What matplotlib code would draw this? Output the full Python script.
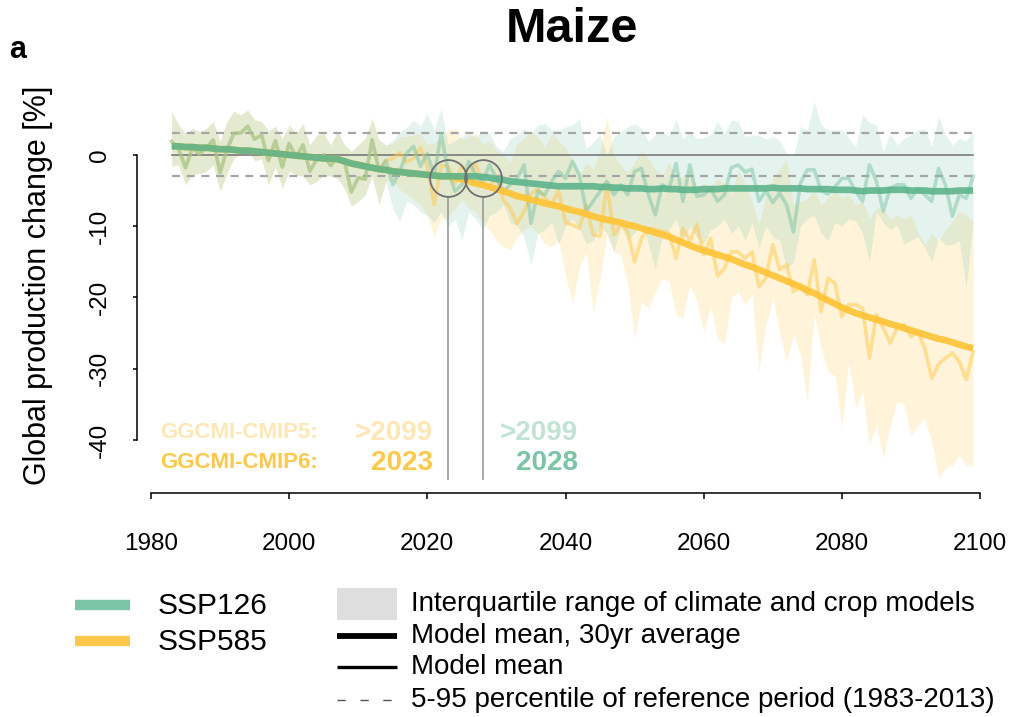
import numpy as np
import matplotlib
matplotlib.use("Agg")
import matplotlib.pyplot as plt
from matplotlib.lines import Line2D
from matplotlib.patches import Rectangle

plt.rcParams['font.family'] = ['Liberation Sans', 'DejaVu Sans']
plt.rcParams['axes.unicode_minus'] = False

# ---- data ----
years = np.arange(1983, 2100)

# shared historical part 1983-2014
hist_mean = [1.9, 0.8, -1.8, 1.0, 0.1, 1.0, 2.1, -2.5, 0.8, 3.0,
             3.1, 4.0, 2.2, 2.8, -0.8, 2.0, -1.7, 1.6, -0.3, 1.4,
             -2.3, -0.6, 0.0, -1.5, -0.3, -0.9, -5.2, -3.2, -3.4, 2.1,
             -2.2, -0.8]
hist_hi = [6.1, 4.2, 3.0, 3.7, 3.3, 3.7, 4.7, 1.9, 4.7, 6.1,
           5.6, 6.3, 4.9, 4.7, 3.3, 4.0, 2.3, 4.2, 3.0, 4.4,
           1.4, 2.8, 3.0, 1.4, 3.3, 1.4, 0.5, 1.4, 2.3, 5.1,
           2.1, 1.4]
hist_lo = [-1.6, -1.4, -4.2, -2.8, -2.6, -2.3, -1.4, -5.1, -2.6, -0.5,
           0.2, 0.9, -0.9, -0.5, -4.2, -1.6, -4.7, -2.3, -2.8, -3.0,
           -4.2, -3.7, -2.8, -3.0, -3.3, -4.7, -7.2, -6.5, -5.6, -3.0,
           -7.0, -3.7]
hist_avg = [1.2, 1.2, 1.1, 1.1, 1.0, 1.0, 0.9, 0.8, 0.8, 0.7,
            0.6, 0.6, 0.5, 0.4, 0.3, 0.2, 0.1, 0.0, -0.1, -0.2,
            -0.3, -0.4, -0.5, -0.5, -0.6, -0.9, -1.2, -1.4, -1.6, -1.8,
            -2.0, -2.1]

# SSP126 2015-2099
ssp126_mean = [-4.2, -2.3, 0.2, 1.2, -1.6, 0.2, -3.0, 3.0, -2.3, -5.1,
               -4.2, -0.9, -2.8, -3.7, -1.4, -3.3, -5.1, -4.2, -3.3, -1.4,
               -9.6, -5.1, -5.6, -3.7, -2.3, -3.3, -0.9, -2.8, -7.9, -6.5,
               -5.1, -3.7, -5.6, -4.2, -5.6, -2.3, -1.9, -5.6, -8.4, -4.2,
               -4.7, -1.2, -6.5, -1.4, -5.8, -5.6, -4.7, -6.5, -5.6, -1.8,
               -1.4, -2.4, -2.0, -6.5, -5.0, -6.7, -5.4, -7.0, -10.8, -4.0,
               -2.1, -2.1, -5.0, -5.5, -4.5, -3.3, -3.3, -5.1, -6.5, -1.4,
               -3.7, -7.9, -4.7, -4.2, -4.2, -6.1, -4.7, -5.6, -6.5, -1.9,
               -4.2, -8.6, -5.6, -6.1, -3.0]
ssp126_hi = [2.0, 3.3, 3.8, 4.9, 4.0, 5.8, 3.5, 6.5, 1.5, 2.0,
             2.6, 3.0, 2.5, 3.5, 3.0, 1.2, 0.5, 2.3, 2.8, 3.7,
             3.0, 4.2, 4.4, 3.5, 3.5, 3.9, 4.2, 5.1, 0.9, 1.8,
             2.8, 0.0, 2.5, 3.3, 3.9, 4.4, 3.7, 1.9, 2.8, 3.3,
             2.6, 4.9, 2.3, 3.3, 2.3, 2.4, 2.8, 4.7, 3.0, 4.9,
             4.7, 2.6, 2.8, 2.8, 2.2, 2.6, 2.0, 0.2, -0.2, 4.0,
             3.5, 7.5, 4.2, 3.5, 3.5, 3.5, 2.3, 1.2, 5.6, 4.5,
             4.2, 0.5, 3.0, 1.4, 2.3, 2.8, 3.5, 3.7, 1.2, 5.4,
             2.8, 1.4, 2.3, 1.9, 3.3]
ssp126_lo = [-7.5, -9.3, -6.5, -7.0, -8.0, -8.5, -9.5, -8.0, -10.0, -9.0,
             -11.9, -8.0, -9.0, -10.5, -8.5, -8.0, -7.0, -9.5, -10.0, -11.5,
             -15.4, -11.0, -10.5, -9.5, -12.5, -10.0, -9.0, -10.3, -12.5, -12.0,
             -10.0, -11.0, -13.5, -10.0, -12.0, -11.0, -9.5, -12.5, -16.0, -11.5,
             -10.5, -9.0, -12.0, -10.0, -11.5, -12.5, -10.5, -10.0, -9.0, -11.0,
             -10.0, -12.0, -9.5, -13.0, -10.0, -11.5, -12.0, -16.0, -15.0, -10.0,
             -9.0, -8.5, -11.0, -12.0, -9.5, -10.0, -9.0, -9.3, -11.0, -15.0,
             -8.0, -9.5, -10.5, -9.8, -12.6, -12.0, -11.5, -13.0, -15.0, -11.7,
             -12.6, -12.6, -12.0, -18.7, -9.3]
ssp126_avg = [-2.3, -2.4, -2.5, -2.6, -2.7, -2.8, -2.9, -3.0, -3.0, -3.0,
              -3.0, -3.0, -3.0, -3.1, -3.2, -3.4, -3.5, -3.7, -3.8, -3.9,
              -4.0, -4.1, -4.2, -4.3, -4.4, -4.4, -4.4, -4.4, -4.4, -4.4,
              -4.5, -4.5, -4.6, -4.6, -4.7, -4.7, -4.7, -4.8, -4.8, -4.7,
              -4.8, -4.8, -4.9, -4.9, -4.9, -4.8, -4.8, -4.8, -4.7, -4.7,
              -4.7, -4.7, -4.7, -4.7, -4.7, -4.6, -4.7, -4.7, -4.7, -4.7,
              -4.8, -4.8, -4.8, -4.8, -4.9, -4.9, -4.9, -5.0, -5.1, -5.0,
              -5.0, -5.0, -4.9, -4.9, -4.9, -5.0, -5.0, -5.0, -5.1, -5.1,
              -5.1, -5.1, -5.0, -5.0, -5.0]

# SSP585 2015-2099
ssp585_mean = [-0.5, 0.3, -1.0, -0.5, 1.0, -1.5, -7.0, -1.5, -1.6, -4.0,
               -1.5, -3.0, -1.2, -4.0, -4.5, -3.0, -6.3, -7.5, -9.6, -8.0,
               -5.5, -4.8, -6.0, -7.0, -5.0, -9.5, -9.8, -10.3, -7.0, -11.2,
               -11.4, -4.0, -11.2, -9.8, -10.7, -15.0, -11.7, -10.3, -10.5, -10.7,
               -11.0, -14.5, -10.3, -12.1, -9.8, -14.0, -11.7, -17.0, -15.9, -13.6,
               -13.6, -14.5, -13.6, -18.5, -17.3, -12.6, -16.1, -15.4, -19.2, -18.5,
               -19.6, -14.7, -22.0, -17.3, -18.0, -22.7, -21.0, -21.0, -21.5, -28.5,
               -22.4, -24.3, -26.4, -24.3, -23.8, -25.5, -24.8, -27.1, -31.3, -29.4,
               -28.5, -27.8, -29.0, -31.5, -27.6]
ssp585_hi = [1.6, 2.5, 2.6, 2.8, 3.0, 1.5, 1.6, 2.5, 3.5, 3.7,
             2.1, 2.6, 3.0, 1.5, 2.0, 0.7, 0.0, -1.0, 1.6, 2.3,
             3.5, 2.5, 1.0, 3.0, 2.0, 1.0, -0.5, -3.0, -1.0, -2.0,
             0.5, 5.4, 0.0, -1.5, -2.5, -1.0, 0.5, -0.5, -2.0, -3.0,
             -1.0, -3.5, -3.0, -2.0, -4.5, -4.0, -4.5, -3.3, -4.0, -5.6,
             -2.3, -4.0, -6.5, -9.8, -6.0, -3.3, -2.0, -0.7, -7.0, -6.5,
             -6.1, -5.0, -7.0, -6.0, -5.1, -6.0, -5.6, -7.0, -6.5, -8.9,
             -7.5, -7.5, -9.0, -8.4, -9.0, -8.4, -10.8, -12.6, -11.0, -12.1,
             -10.5, -9.3, -7.9, -8.5, -9.3]
ssp585_lo = [-3.5, -4.9, -5.5, -6.3, -7.0, -8.5, -11.4, -9.0, -8.6, -7.5,
             -6.3, -7.5, -8.0, -9.5, -10.5, -12.0, -12.9, -13.3, -11.5, -10.5,
             -10.0, -11.0, -12.5, -12.9, -12.0, -17.0, -20.8, -15.9, -13.6, -22.0,
             -17.3, -11.2, -13.6, -14.0, -18.2, -25.7, -20.6, -21.5, -19.2, -17.3,
             -17.8, -22.4, -22.9, -18.2, -20.5, -24.8, -21.0, -25.7, -26.6, -20.1,
             -19.2, -21.0, -19.6, -30.4, -24.0, -20.1, -25.0, -29.0, -25.2, -28.0,
             -34.6, -22.4, -27.0, -30.4, -31.0, -38.3, -29.0, -35.5, -33.2, -40.7,
             -37.9, -42.5, -38.0, -34.6, -35.0, -39.3, -38.0, -37.0, -40.2, -45.3,
             -43.9, -43.5, -42.1, -43.5, -43.7]
ssp585_avg = [-2.3, -2.4, -2.5, -2.6, -2.7, -2.8, -2.9, -3.0, -3.0, -3.2,
              -3.4, -3.7, -4.0, -4.2, -4.5, -4.8, -5.1, -5.4, -5.8, -6.0,
              -6.3, -6.5, -6.8, -7.0, -7.2, -7.5, -7.8, -8.0, -8.3, -8.6,
              -8.9, -9.1, -9.3, -9.5, -9.8, -10.0, -10.3, -10.6, -10.9, -11.2,
              -11.5, -11.9, -12.3, -12.7, -13.1, -13.4, -13.7, -14.0, -14.3, -14.6,
              -15.0, -15.4, -15.7, -16.1, -16.5, -16.9, -17.3, -17.7, -18.1, -18.5,
              -19.0, -19.4, -19.9, -20.4, -20.9, -21.4, -21.8, -22.2, -22.5, -22.8,
              -23.1, -23.4, -23.7, -24.0, -24.3, -24.6, -24.9, -25.2, -25.5, -25.8,
              -26.0, -26.3, -26.6, -26.9, -27.1]

ref_p5, ref_p95 = -3.0, 3.0
cross_years = [2023, 2028]
cross_value = -3.3
c_teal = '#7CC4A6'
c_teal_dark = '#5DB48C'
c_yel = '#FFC84A'
c_yel_dark = '#FFC233'

scen = {
    'SSP126': (hist_mean + ssp126_mean, hist_lo + ssp126_lo, hist_hi + ssp126_hi,
               hist_avg + ssp126_avg, c_teal, c_teal_dark),
    'SSP585': (hist_mean + ssp585_mean, hist_lo + ssp585_lo, hist_hi + ssp585_hi,
               hist_avg + ssp585_avg, c_yel, c_yel_dark),
}

fig = plt.figure(figsize=(10.1, 7.17), dpi=100)
ax = fig.add_axes([151 / 1010, 1 - 480 / 717, 829 / 1010, 390 / 717])
ax.set_xlim(1980, 2100)
ax.set_ylim(-45.6, 9.1)

# bands
for name in ['SSP585', 'SSP126']:
    m, lo, hi, avg, c, cd = scen[name]
    ax.fill_between(years, lo, hi, color=c, alpha=0.2, lw=0, zorder=1)

# reference lines
ax.plot([1983, 2099], [0, 0], color='#7A7A7A', lw=1.2, zorder=2)
for v in [ref_p5, ref_p95]:
    ax.plot([1983, 2099], [v, v], color='#A5A5A5', lw=1.6, dashes=[3.6, 3.0], zorder=2)

# annual means
for name in ['SSP585', 'SSP126']:
    m, lo, hi, avg, c, cd = scen[name]
    ax.plot(years, m, color=c, alpha=0.5, lw=2.6, zorder=3)

# 30yr averages
for name in ['SSP585', 'SSP126']:
    m, lo, hi, avg, c, cd = scen[name]
    ax.plot(years, avg, color=cd, alpha=0.9, lw=4.8, zorder=4, solid_capstyle='butt')

# crossing markers
for yr in cross_years:
    ax.plot([yr], [cross_value], marker='o', ms=26.5, mfc='none', mec='#707070', mew=1.3, zorder=6)
    ax.plot([yr, yr], [-5.9, -45.4], color='#999999', lw=1.2, zorder=5)

# annotation text
ax.text(1981.3, -39.0, 'GGCMI-CMIP5:', color='#FFE6B5', fontsize=16, fontweight='bold', ha='left', va='center')
ax.text(1981.3, -43.2, 'GGCMI-CMIP6:', color='#FFC84A', fontsize=16, fontweight='bold', ha='left', va='center')
ax.text(2020.8, -39.0, '>2099', color='#FFE6B5', fontsize=20, fontweight='bold', ha='right', va='center')
ax.text(2020.8, -43.2, '2023', color='#FFC84A', fontsize=20, fontweight='bold', ha='right', va='center')
ax.text(2041.8, -39.0, '>2099', color='#C0E3D4', fontsize=20, fontweight='bold', ha='right', va='center')
ax.text(2041.8, -43.2, '2028', color='#7CC4A6', fontsize=20, fontweight='bold', ha='right', va='center')

# axes styling
for s in ['top', 'right']:
    ax.spines[s].set_visible(False)
ax.spines['left'].set_position(('outward', 10))
ax.spines['bottom'].set_position(('outward', 9))
ax.spines['left'].set_bounds(-40, 0)
ax.spines['bottom'].set_bounds(1980, 2100)
ax.spines['left'].set_linewidth(1.1)
ax.spines['bottom'].set_linewidth(1.1)
ax.set_xticks([1980, 2000, 2020, 2040, 2060, 2080, 2100])
ax.set_yticks([0, -10, -20, -30, -40])
ax.tick_params(axis='x', length=4, width=1.1, labelsize=17.5, pad=25)
ax.tick_params(axis='y', length=3, width=1.1, labelsize=17.5, pad=16)
for lab in ax.get_yticklabels():
    lab.set_rotation(90)
    lab.set_va('center')

fig.text(38 / 1010, 1 - 285 / 717, 'Global production change [%]', rotation=90,
         ha='center', va='center', fontsize=22)
fig.text(572 / 1010, 1 - 30 / 717, 'Maize', ha='center', va='center', fontsize=35, fontweight='bold')
fig.text(9 / 1010, 1 - 50 / 717, 'a', ha='left', va='center', fontsize=22, fontweight='bold')

# legend (drawn in figure pixel space)
def fx(px):
    return px / 1010

def fy(py):
    return 1 - py / 717

fig.add_artist(Line2D([fx(75), fx(130)], [fy(605), fy(605)], color=c_teal, lw=7.5, solid_capstyle='butt'))
fig.add_artist(Line2D([fx(75), fx(130)], [fy(641), fy(641)], color=c_yel, lw=7.5, solid_capstyle='butt'))
fig.text(fx(158), fy(606), 'SSP126', ha='left', va='center', fontsize=21.5)
fig.text(fx(158), fy(642), 'SSP585', ha='left', va='center', fontsize=21.5)

fig.add_artist(Rectangle((fx(337), fy(620)), fx(60), 32 / 717, color='#DEDEDE', lw=0))
fig.add_artist(Line2D([fx(337), fx(397)], [fy(636), fy(636)], color='black', lw=4.2, solid_capstyle='butt'))
fig.add_artist(Line2D([fx(337), fx(397)], [fy(667), fy(667)], color='black', lw=2.4, solid_capstyle='butt'))
fig.add_artist(Line2D([fx(337), fx(397)], [fy(700), fy(700)], color='#555555', lw=1.0, dashes=[6, 10.5]))
fig.text(fx(411), fy(604), 'Interquartile range of climate and crop models', ha='left', va='center', fontsize=20)
fig.text(fx(411), fy(636), 'Model mean, 30yr average', ha='left', va='center', fontsize=20)
fig.text(fx(411), fy(667), 'Model mean', ha='left', va='center', fontsize=20)
fig.text(fx(411), fy(700), '5-95 percentile of reference period (1983-2013)', ha='left', va='center', fontsize=20)

fig.savefig('out.png', dpi=100)
